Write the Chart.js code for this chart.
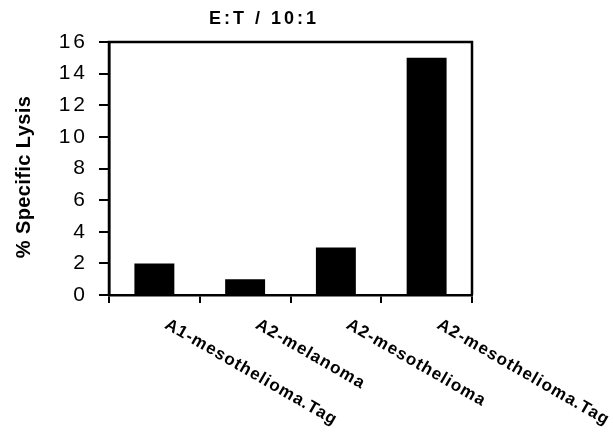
<!DOCTYPE html>
<html>
<head>
<meta charset="utf-8">
<script src="https://cdn.jsdelivr.net/npm/chart.js@4"></script>
<style>
  html, body { margin: 0; padding: 0; background: #fff; }
  #wrap { width: 613px; height: 433px; }
</style>
</head>
<body>
<div id="wrap"><canvas id="lysisChart" width="613" height="433"></canvas></div>
<script>
// data
const targets = ['A1-mesothelioma.Tag', 'A2-melanoma', 'A2-mesothelioma', 'A2-mesothelioma.Tag'];
const lysis = [2, 1, 3, 15];
const yTicks = [0, 2, 4, 6, 8, 10, 12, 14, 16];
const chartTitle = 'E:T / 10:1';
const yTitle = '% Specific Lysis';

// box around plot, title, rotated labels
const decor = {
    id: 'decor',
    beforeDraw(chart) {
        // the scanned figure has wide letter spacing on tick numbers
        chart.ctx.letterSpacing = '3px';
    },
    afterDraw(chart) {
        const ctx = chart.ctx;
        const a = chart.chartArea;
        const x = chart.scales.x;
        ctx.save();
        ctx.strokeStyle = '#000';
        ctx.lineWidth = 2.5;
        ctx.beginPath();
        ctx.moveTo(a.left, a.bottom);
        ctx.lineTo(a.left, a.top);
        ctx.lineTo(a.right, a.top);
        ctx.lineTo(a.right, a.bottom);
        ctx.stroke();

        ctx.fillStyle = '#000';
        ctx.font = 'bold 18px Arial, "Liberation Sans", sans-serif';
        ctx.letterSpacing = '3px';
        ctx.textAlign = 'center';
        ctx.textBaseline = 'middle';
        ctx.fillText(chartTitle, 264, 19);

        ctx.save();
        ctx.translate(24, 177);
        ctx.rotate(-Math.PI / 2);
        ctx.font = 'bold 20px Arial, "Liberation Sans", sans-serif';
        ctx.letterSpacing = '0.4px';
        ctx.fillText(yTitle, 0, 0);
        ctx.restore();

        ctx.font = 'bold 17px Arial, "Liberation Sans", sans-serif';
        ctx.letterSpacing = '1.1px';
        ctx.textAlign = 'left';
        ctx.textBaseline = 'top';
        targets.forEach((t, i) => {
            const px = x.getPixelForValue(i);
            ctx.save();
            ctx.translate(px + 16, a.bottom + 21);
            ctx.rotate(30 * Math.PI / 180);
            ctx.fillText(t, 0, 0);
            ctx.restore();
        });
        ctx.restore();
        ctx.letterSpacing = '0px';
    }
};

new Chart(document.getElementById('lysisChart').getContext('2d'), {
    type: 'bar',
    data: {
        labels: targets,
        datasets: [{
            data: lysis,
            backgroundColor: '#000',
            borderWidth: 0,
            barPercentage: 0.44,
            categoryPercentage: 1
        }]
    },
    options: {
        responsive: false,
        animation: false,
        layout: { padding: { left: 0, right: 141, top: 42, bottom: 0 } },
        plugins: {
            legend: { display: false },
            tooltip: { enabled: false }
        },
        scales: {
            x: {
                grid: { display: true, drawOnChartArea: false, drawTicks: true, tickLength: 8, color: '#000', lineWidth: 2, offset: true },
                border: { display: true, color: '#000', width: 2.5 },
                ticks: { display: false },
                afterFit(scale) { scale.height = 138; }
            },
            y: {
                min: 0,
                max: 16,
                afterBuildTicks(scale) { scale.ticks = yTicks.map(v => ({ value: v })); },
                grid: { display: true, drawOnChartArea: false, drawTicks: true, tickLength: 10, color: '#000', lineWidth: 2 },
                border: { display: true, color: '#000', width: 2.5 },
                ticks: { color: '#000', padding: 11, font: { family: 'Arial, "Liberation Sans", sans-serif', size: 21 } },
                afterFit(scale) { scale.width = 109; }
            }
        }
    },
    plugins: [decor]
});
</script>
</body>
</html>
